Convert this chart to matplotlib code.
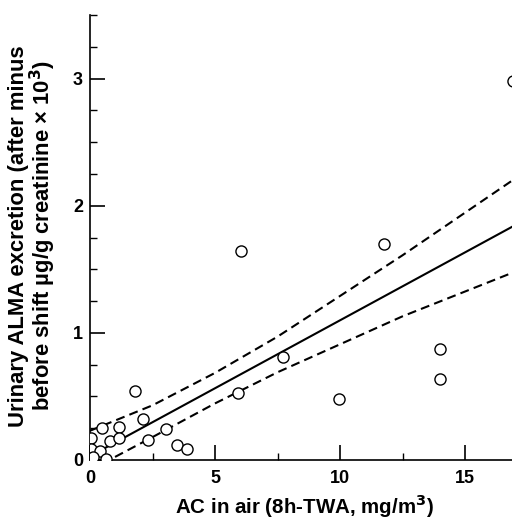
import matplotlib
matplotlib.use("Agg")
import matplotlib.pyplot as plt
from matplotlib.ticker import MultipleLocator

plt.rcParams['font.family'] = ['Liberation Sans', 'DejaVu Sans']

# Scatter data (AC in air, urinary ALMA excretion)
ac_air = [16.9, 6.05, 11.75, 7.73, 9.97, 13.99, 13.99, 1.8, 5.9, 2.1, 0.49,
          1.17, 3.03, 0.03, 0.8, 1.17, 2.33, 3.47, 3.89, 0.03, 0.4, 0.1, 0.64]
alma = [2.98, 1.64, 1.70, 0.81, 0.48, 0.87, 0.64, 0.54, 0.53, 0.32, 0.25,
        0.26, 0.24, 0.17, 0.15, 0.17, 0.16, 0.12, 0.09, 0.09, 0.07, 0.02, 0.01]

# Regression line and confidence limits
fit_x = [0, 17.5]
fit_y = [0.03, 1.90]
band_x = [0, 2.5, 5, 7.5, 10, 12.5, 15, 17.5]
band_upper = [0.23, 0.43, 0.685, 0.97, 1.29, 1.61, 1.945, 2.28]
band_lower = [-0.08, 0.18, 0.445, 0.69, 0.91, 1.13, 1.325, 1.52]

x_ticks = [0, 5, 10, 15]
y_ticks = [0, 1, 2, 3]

W, H = 512, 522
fig = plt.figure(figsize=(W / 100, H / 100), dpi=100)
ax = fig.add_axes([90 / W, 1 - 460 / H, (512 - 90) / W, (460 - 15) / H])

dash = (0, (4.3, 2.5))
ax.plot(fit_x, fit_y, color='black', lw=1.5, zorder=2)
ax.plot(band_x, band_upper, color='black', lw=1.5, ls=dash, zorder=2)
ax.plot(band_x, band_lower, color='black', lw=1.5, ls=dash, zorder=2)
ax.plot(ac_air, alma, ls='none', marker='o', ms=8.0, mfc='white',
        mec='black', mew=1.0, zorder=3)

ax.set_xlim(0, 16.88)
ax.set_ylim(0, 3.5)
for s in ['top', 'right']:
    ax.spines[s].set_visible(False)
for s in ['left', 'bottom']:
    ax.spines[s].set_linewidth(1.2)

ax.set_xticks(x_ticks)
ax.set_yticks(y_ticks)
ax.xaxis.set_minor_locator(MultipleLocator(2.5))
ax.yaxis.set_minor_locator(MultipleLocator(0.25))
ax.tick_params(which='major', direction='in', length=10.5, width=1.2,
               labelsize=13)
ax.tick_params(which='minor', direction='in', length=5.3, width=1.0)
ax.tick_params(axis='x', which='major', pad=7)
ax.tick_params(axis='y', which='major', pad=5)
for lab in ax.get_xticklabels() + ax.get_yticklabels():
    lab.set_fontweight('bold')

fig.text(304 / W, 1 - 506 / H, 'AC in air (8h-TWA, mg/m$^\\mathbf{3}$)',
         ha='center', va='center', fontsize=14.8, fontweight='bold')
fig.text(33 / W, 1 - 236 / H,
         'Urinary ALMA excretion (after minus\n'
         'before shift µg/g creatinine × 10$^\\mathbf{3}$)',
         ha='center', va='center', rotation=90, fontsize=15.8,
         fontweight='bold', linespacing=0.92, multialignment='center')

fig.savefig('out.png', dpi=100)
